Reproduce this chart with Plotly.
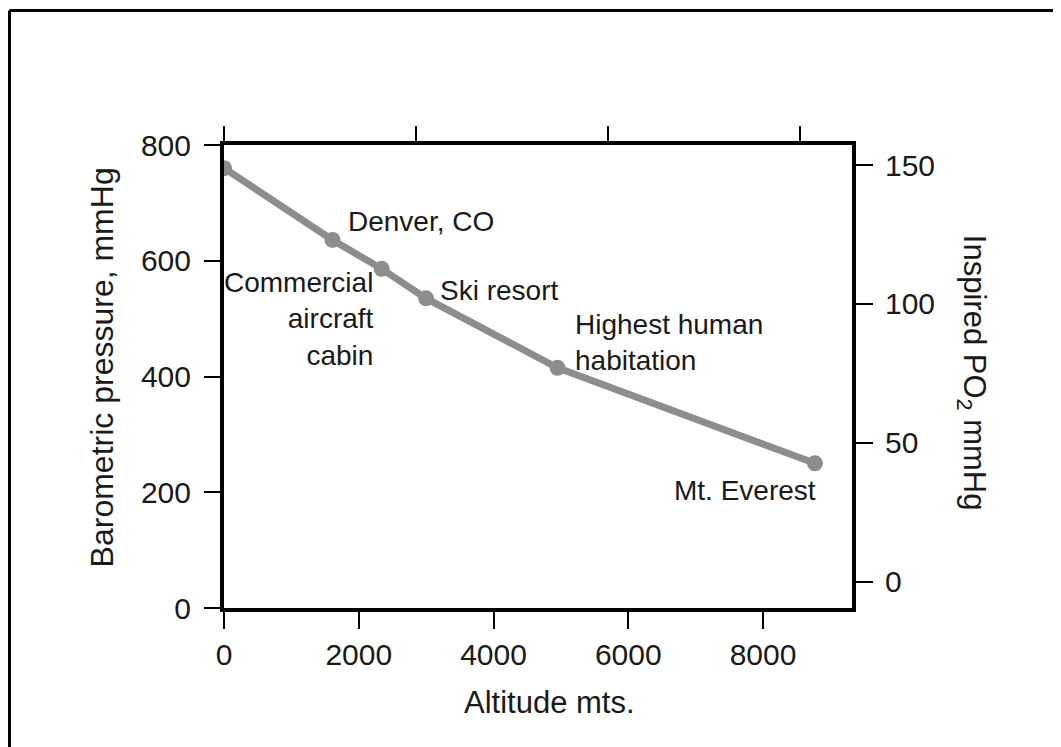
import plotly.graph_objects as go

# altitude (m) and barometric pressure (mmHg)
altitude = [0, 1610, 2340, 3000, 4950, 8770]
pressure = [760, 636, 586, 535, 415, 250]
place = ["", "Denver, CO", "Commercial<br>aircraft<br>cabin", "Ski resort",
         "Highest human<br>habitation", "Mt. Everest"]

x_ticks = [0, 2000, 4000, 6000, 8000]
y_ticks = [0, 200, 400, 600, 800]
po2_ticks = [0, 50, 100, 150]

grey = "#8d8d8d"
ink = "#1a1a1a"
font = "Liberation Sans"

fig = go.Figure()
fig.add_trace(go.Scatter(
    x=altitude, y=pressure, mode="lines+markers",
    line=dict(color=grey, width=7),
    marker=dict(color=grey, size=16),
    showlegend=False, hoverinfo="skip",
))
# empty traces so the top and right axes get drawn
fig.add_trace(go.Scatter(x=[None], y=[None], xaxis="x2", yaxis="y",
                         showlegend=False, hoverinfo="skip"))
fig.add_trace(go.Scatter(x=[None], y=[None], xaxis="x", yaxis="y2",
                         showlegend=False, hoverinfo="skip"))

# label offsets (pixels) for each place name
offsets = {
    "Denver, CO": ("left", 14, 18, "left"),
    "Commercial<br>aircraft<br>cabin": ("right", -6, -50, "right"),
    "Ski resort": ("left", 12, 8, "left"),
    "Highest human<br>habitation": ("left", 15, 25, "left"),
    "Mt. Everest": ("right", 3, -27, "right"),
}
for xv, yv, name in zip(altitude, pressure, place):
    if not name:
        continue
    anchor, dx, dy, al = offsets[name]
    fig.add_annotation(x=xv, y=yv, text=name, showarrow=False,
                       xanchor=anchor, yanchor="middle", align=al,
                       xshift=dx, yshift=dy,
                       font=dict(family=font, size=28, color=ink))

# axis titles
fig.add_annotation(xref="paper", yref="paper", x=0.519, y=-0.205,
                   text="Altitude mts.", showarrow=False,
                   xanchor="center", yanchor="middle",
                   font=dict(family=font, size=31, color=ink))
fig.add_annotation(xref="paper", yref="paper", x=-0.194, y=0.52,
                   text="Barometric pressure, mmHg", textangle=-90,
                   showarrow=False, xanchor="center", yanchor="middle",
                   font=dict(family=font, size=32, color=ink))
fig.add_annotation(xref="paper", yref="paper", x=1.191, y=0.508,
                   text="Inspired PO<sub>2</sub> mmHg", textangle=90,
                   showarrow=False, xanchor="center", yanchor="middle",
                   font=dict(family=font, size=31, color=ink))

axis_common = dict(showgrid=False, zeroline=False, showline=True,
                   linecolor="black", linewidth=4, ticks="outside",
                   tickwidth=2, tickcolor="black",
                   tickfont=dict(family=font, size=30, color=ink))

fig.update_layout(
    width=1053, height=739,
    margin=dict(l=216, r=209, t=137, b=139),
    paper_bgcolor="white", plot_bgcolor="white",
    xaxis=dict(range=[0, 9320], tickvals=x_ticks, ticklen=17,
               ticklabelstandoff=0, **axis_common),
    xaxis2=dict(overlaying="x", side="top", anchor="y", range=[0, 3.27],
                tickvals=[0, 1, 2, 3], showticklabels=False, ticklen=15,
                **axis_common),
    yaxis=dict(range=[0, 800], tickvals=y_ticks, ticklen=16,
               ticklabelstandoff=7, **axis_common),
    yaxis2=dict(overlaying="y", side="right", anchor="x", range=[-9.4, 157.2],
                tickvals=po2_ticks, ticklen=17, ticklabelstandoff=6,
                **axis_common),
    shapes=[
        dict(type="line", xref="paper", yref="paper", x0=-0.3416, x1=1.4,
             y0=1.2905, y1=1.2905, line=dict(color="black", width=3)),
        dict(type="line", xref="paper", yref="paper", x0=-0.3416, x1=-0.3416,
             y0=1.2905, y1=-0.31, line=dict(color="black", width=3)),
    ],
)

fig.write_html("out.html")
